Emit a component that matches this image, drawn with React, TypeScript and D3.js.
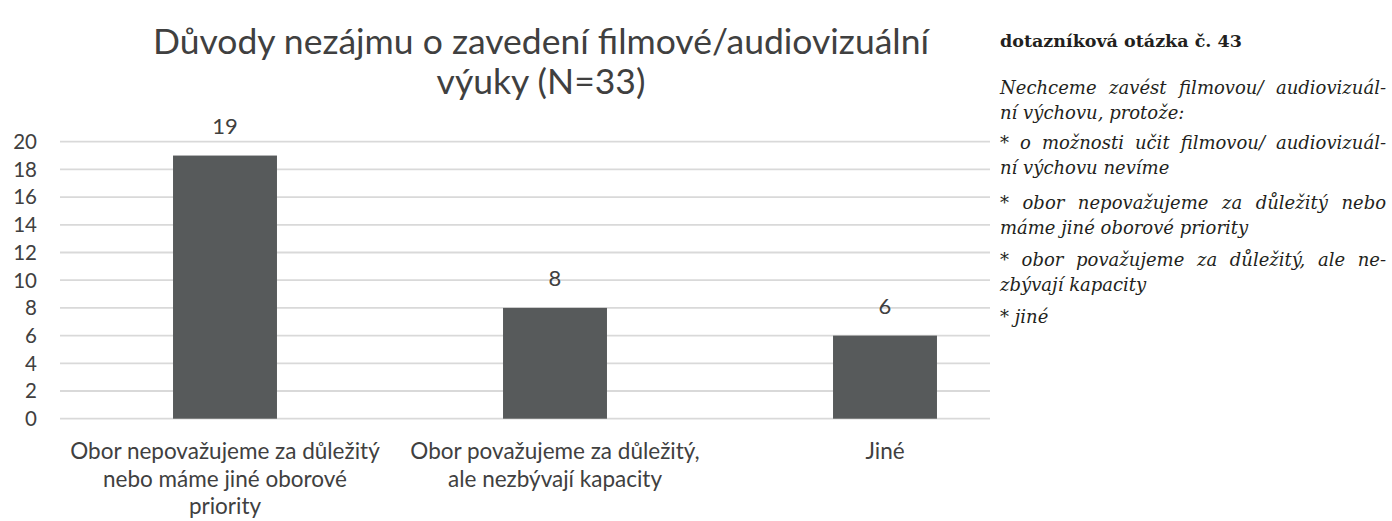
import React, { useLayoutEffect, useRef } from "react";
import * as d3 from "d3";

const W = 1392;
const H = 521;

const titleLines = ["Důvody nezájmu o zavedení filmové/audiovizuální", "výuky (N=33)"];
const categories = ["Obor nepovažujeme za důležitý nebo máme jiné oborové priority", "Obor považujeme za důležitý, ale nezbývají kapacity", "Jiné"];
const categoryLines = [
  ["Obor nepovažujeme za důležitý", "nebo máme jiné oborové", "priority"],
  ["Obor považujeme za důležitý,", "ale nezbývají kapacity"],
  ["Jiné"],
];
const values = [19, 8, 6];
const yTicks = [0, 2, 4, 6, 8, 10, 12, 14, 16, 18, 20];

const noteHeading = "dotazníková otázka č. 43";
// each line: [text, justified]
const noteParagraphs: [string, boolean][][] = [
  [["Nechceme zavést filmovou/ audiovizuál-", true], ["ní výchovu, protože:", false]],
  [["* o možnosti učit filmovou/ audiovizuál-", true], ["ní výchovu nevíme", false]],
  [["* obor nepovažujeme za důležitý nebo", true], ["máme jiné oborové priority", false]],
  [["* obor považujeme za důležitý, ale ne-", true], ["zbývají kapacity", false]],
  [["* jiné", false]],
];

const SANS = "Lato, 'Open Sans', sans-serif";
const SERIF = "'DejaVu Serif', 'Liberation Serif', serif";
const TXT = "#404040";

export default function App() {
  const noteRef = useRef<SVGGElement>(null);

  const y = d3.scaleLinear().domain([0, 20]).range([418.7, 141.7]);
  const x = d3
    .scaleBand<string>()
    .domain(categories)
    .range([60, 1050])
    .paddingInner(0.685)
    .paddingOuter(0.3425);

  const noteX = 1000;
  const noteRight = 1386;
  const paraStarts = [94, 149, 209, 266, 323];
  const lineGap = 25;

  useLayoutEffect(() => {
    const g = noteRef.current;
    if (!g) return;
    g.querySelectorAll<SVGTextElement>("text[data-justify='1']").forEach((t) => {
      t.setAttribute("word-spacing", "0");
      const nat = t.getComputedTextLength();
      const spaces = (t.textContent || "").split(" ").length - 1;
      if (spaces > 0) {
        const ws = (noteRight - noteX - nat) / spaces;
        t.setAttribute("word-spacing", String(ws));
      }
    });
  }, []);

  return (
    <svg
      width={W}
      height={H}
      style={{ position: "absolute", left: 0, top: 0, background: "#fff" }}
    >
      {/* title */}
      <g fontFamily={SANS} fill={TXT} fontSize={35.5} textAnchor="middle">
        {titleLines.map((t, i) => (
          <text key={i} x={541} y={54 + i * 40}>
            {t}
          </text>
        ))}
      </g>

      {/* gridlines */}
      <g stroke="#d9d9d9" strokeWidth={1.8}>
        {yTicks.map((t) => (
          <line key={t} x1={60} x2={990} y1={y(t)} y2={y(t)} />
        ))}
      </g>

      {/* y tick labels */}
      <g fontFamily={SANS} fill={TXT} fontSize={20.5} textAnchor="end">
        {yTicks.map((t) => (
          <text key={t} x={37} y={y(t)} dy="0.36em">
            {t}
          </text>
        ))}
      </g>

      {/* bars */}
      <g fill="#575a5b">
        {categories.map((c, i) => (
          <rect
            key={c}
            x={x(c)}
            y={y(values[i])}
            width={x.bandwidth()}
            height={y(0) - y(values[i])}
          />
        ))}
      </g>

      {/* value labels */}
      <g fontFamily={SANS} fill={TXT} fontSize={22} textAnchor="middle">
        {categories.map((c, i) => (
          <text key={c} x={(x(c) as number) + x.bandwidth() / 2} y={y(values[i]) - 22}>
            {values[i]}
          </text>
        ))}
      </g>

      {/* category labels */}
      <g fontFamily={SANS} fill={TXT} fontSize={22.5} textAnchor="middle">
        {categories.map((c, i) =>
          categoryLines[i].map((ln, j) => (
            <text key={c + j} x={(x(c) as number) + x.bandwidth() / 2} y={459 + j * 27.5}>
              {ln}
            </text>
          ))
        )}
      </g>

      {/* side note */}
      <rect x={994} y={0} width={W - 994} height={H} fill="#fff" />
      <g ref={noteRef} fontFamily={SERIF} fill="#231f20" fontSize={18}>
        <text x={noteX} y={47} fontWeight="bold" fontSize={17.5}>
          {noteHeading}
        </text>
        {noteParagraphs.map((p, i) =>
          p.map(([ln, just], j) => (
            <text
              key={i + "-" + j}
              x={noteX}
              y={paraStarts[i] + j * lineGap}
              fontStyle="italic"
              data-justify={just ? "1" : "0"}
            >
              {ln}
            </text>
          ))
        )}
      </g>
    </svg>
  );
}
